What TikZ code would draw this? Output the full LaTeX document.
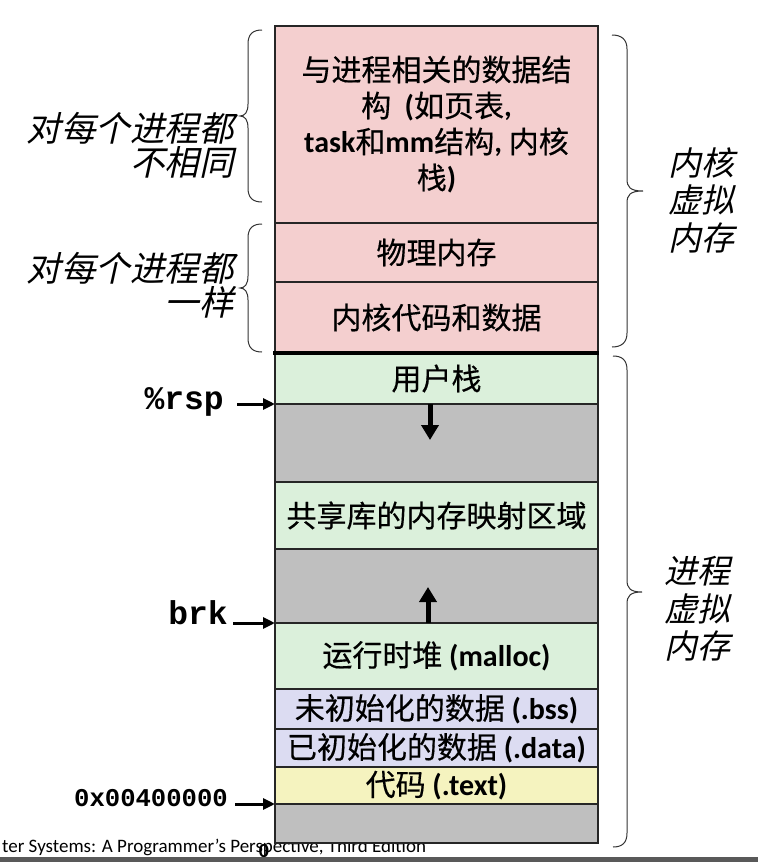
\documentclass[tikz,border=0pt]{standalone}
\usepackage{fontspec}
\setmainfont{Carlito}
\newfontfamily\cjk[FakeBold=0.4]{Noto Sans CJK SC}
\newfontfamily\cjkslant[FakeSlant=0.22]{Noto Sans CJK SC}
\newfontfamily\courbold{Liberation Mono}
\usetikzlibrary{arrows.meta}

\definecolor{kpink}{HTML}{F4CFCF}
\definecolor{ugreen}{HTML}{DBF0DB}
\definecolor{ugray}{HTML}{BFBFBF}
\definecolor{ulav}{HTML}{DCDCF2}
\definecolor{uyellow}{HTML}{F5F3BF}
\definecolor{bargray}{HTML}{595959}

% Chinese run and bold Latin run inside mixed labels
\newcommand{\zh}[1]{{\cjk #1}}
\newcommand{\lt}[1]{{\bfseries #1}}

\begin{document}
\begin{tikzpicture}[x=1pt,y=-1pt,
  seg/.style={draw=black!85, line width=1.3pt, minimum width=323pt,
    inner sep=0pt, outer sep=0pt, align=center,
    font=\fontsize{30}{36}\selectfont},
  sidel/.style={font=\cjkslant\fontsize{34.5}{34}\selectfont, align=right, inner sep=0pt},
  sider/.style={font=\cjkslant\fontsize{33}{37.5}\selectfont, align=left, inner sep=0pt},
  brace/.style={draw=black!80, line width=1pt},
  ptr/.style={line width=3pt, -{Triangle[length=12pt,width=11pt]}},
  growarrow/.style={line width=5pt, -{Triangle[length=15pt,width=17pt]}},
  addr/.style={font=\courbold\bfseries\fontsize{33}{33}\selectfont, inner sep=0pt}
]
\useasboundingbox (0,0) rectangle (758,862);

% footer line of the slide (partly hidden behind the column)
\node[anchor=base west, inner sep=0pt, font=\fontsize{19}{19}\selectfont] (foot)
  at (2,852) {ter Systems: A Programmer’s Perspective, Third Edition};

% kernel virtual memory
\node[seg, fill=kpink, minimum height=197pt] (kds) at (436.5,124.5)
  {\zh{与进程相关的数据结}\\
   \zh{构}\ \ \lt{(}\zh{如页表}\lt{,}\\
   \lt{task}\zh{和}\lt{mm}\zh{结构}\lt{, }\zh{内核}\\
   \zh{栈}\lt{)}};
\node[seg, fill=kpink, minimum height=59pt] (phys) at (436.5,252.5) {\zh{物理内存}};
\node[seg, fill=kpink, minimum height=71pt] (kcode) at (436.5,317.5) {\zh{内核代码和数据}};

% process virtual memory
\node[seg, fill=ugreen, minimum height=51pt] (ustack) at (436.5,378.5) {\zh{用户栈}};
\node[seg, fill=ugray, minimum height=78pt] (gap1) at (436.5,443) {};
\node[seg, fill=ugreen, minimum height=67pt] (shlib) at (436.5,515.5) {\zh{共享库的内存映射区域}};
\node[seg, fill=ugray, minimum height=74pt] (gap2) at (436.5,586) {};
\node[seg, fill=ugreen, minimum height=66pt] (heap) at (436.5,656) {\zh{运行时堆} \lt{(malloc)}};
\node[seg, fill=ulav, minimum height=40pt] (bss) at (436.5,709) {\zh{未初始化的数据} \lt{(.bss)}};
\node[seg, fill=ulav, minimum height=38pt] (data) at (436.5,748) {\zh{已初始化的数据} \lt{(.data)}};
\node[seg, fill=uyellow, minimum height=37pt] (text) at (436.5,785.5) {\zh{代码} \lt{(.text)}};
\node[seg, fill=ugray, minimum height=39pt] (gap3) at (436.5,823.5) {};

% kernel / user boundary
\draw[line width=4pt] ([xshift=-2pt]kcode.south west) -- ([xshift=1pt]kcode.south east);

% growth directions of stack and heap
\coordinate (stackTip) at (430,440);
\draw[growarrow] (ustack.south -| stackTip) -- (stackTip);
\coordinate (heapTip) at (428,587);
\draw[growarrow] (heap.north -| heapTip) -- (heapTip);

% address pointers
\node[addr, anchor=base east] (rsp) at (224,409) {\%rsp};
\coordinate (rspTail) at (237,404);
\draw[ptr] (rspTail) -- (ustack.south west);

\node[addr, anchor=base east] (brk) at (228,624) {brk};
\coordinate (brkTail) at (233,623);
\draw[ptr] (brkTail) -- (heap.north west);

\node[addr, anchor=base east, font=\courbold\bfseries\fontsize{25.6}{26}\selectfont] (start) at (228,806) {0x00400000};
\coordinate (startTail) at (235,804);
\draw[ptr] (startTail) -- (text.south west);

\node[inner sep=0pt, font=\bfseries\fontsize{20}{20}\selectfont] (zero) at (264,851) {0};

% left braces
\draw[brace] (262,30) .. controls (253,30) and (248,34) .. (248,44) -- (248,104)
  .. controls (248,112) and (245,116) .. (240,116)
  .. controls (245,116) and (248,120) .. (248,128) -- (248,188)
  .. controls (248,198) and (253,202) .. (262,202);
\draw[brace] (262,224) .. controls (253,224) and (248,228) .. (248,238) -- (248,276)
  .. controls (248,284) and (245,288) .. (240,288)
  .. controls (245,288) and (248,292) .. (248,300) -- (248,338)
  .. controls (248,348) and (253,352) .. (262,352);

% right braces
\draw[brace] (612,35) .. controls (621,35) and (627,39) .. (627,49) -- (627,179)
  .. controls (627,187) and (630,191) .. (643,191)
  .. controls (630,191) and (627,195) .. (627,203) -- (627,333)
  .. controls (627,343) and (621,347) .. (612,347);
\draw[brace] (613,356) .. controls (622,356) and (627,360) .. (627,370) -- (627,580)
  .. controls (627,588) and (630,592) .. (642,592)
  .. controls (630,592) and (627,596) .. (627,604) -- (627,833)
  .. controls (627,843) and (622,847) .. (613,847);

% brace labels
\node[sidel, anchor=east] (differ) at (234,145) {对每个进程都\\不相同};
\node[sidel, anchor=east] (same) at (234,285.5) {对每个进程都\\一样};
\node[sider, anchor=west] (kvm) at (668,200) {内核\\虚拟\\内存};
\node[sider, anchor=west] (pvm) at (664,609) {进程\\虚拟\\内存};

% footer bar
\fill[bargray] (0,857) rectangle (758,862);
\end{tikzpicture}
\end{document}
